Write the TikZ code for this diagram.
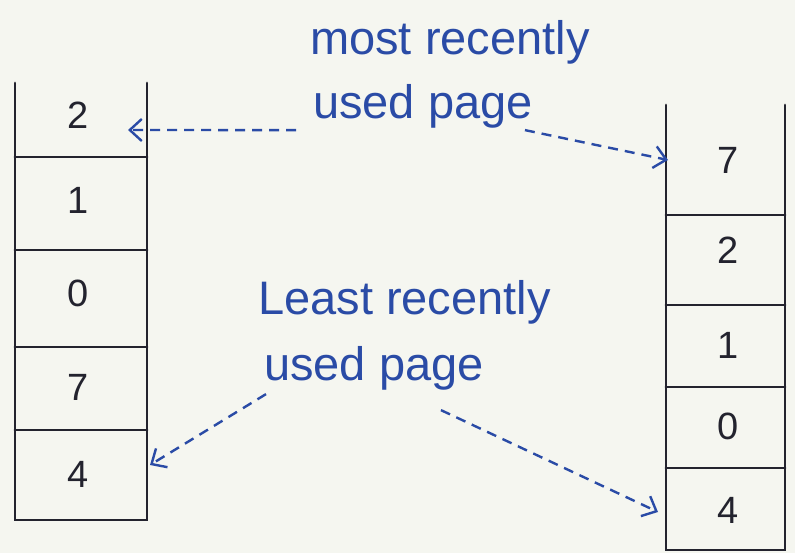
\documentclass[tikz,border=0pt]{standalone}
\usepackage{fontspec}
\setmainfont{Liberation Sans}
\usetikzlibrary{positioning,arrows.meta,calc}
\definecolor{InkBlue}{HTML}{2A4BA6}
\definecolor{InkDark}{HTML}{23232E}
\definecolor{Paper}{HTML}{F5F6F0}

\begin{document}
\begin{tikzpicture}[x=1pt,y=-1pt,
  cellnum/.style={font=\fontsize{38}{40}\selectfont, text=InkDark},
  note/.style={font=\fontsize{47}{50}\selectfont, text=InkBlue, anchor=west, inner sep=2pt},
  stackline/.style={line width=2.8pt, draw=InkDark, line cap=round},
  pointer/.style={line width=2.4pt, draw=InkBlue, dash pattern=on 10pt off 7pt,
    -{Straight Barb[length=12pt,width=22pt,line width=2.4pt]}}]
\fill[Paper] (0,0) rectangle (795,553);
\useasboundingbox (0,0) rectangle (795,553);

% left stack
\draw[stackline] (15,83) -- (15,520) -- (147,520) -- (147,83);
\foreach \y in {157,250,347,430}
  \draw[stackline] (15,\y) -- (147,\y);
\node[cellnum] (l1) at (78,115) {2};
\node[cellnum] (l2) at (78,200) {1};
\node[cellnum] (l3) at (78,293) {0};
\node[cellnum] (l4) at (78,387) {7};
\node[cellnum] (l5) at (78,474) {4};

% right stack
\draw[stackline] (666,105) -- (666,550) -- (785,550) -- (785,105);
\foreach \y in {215,305,387,468}
  \draw[stackline] (666,\y) -- (785,\y);
\node[cellnum] (r1) at (728,160) {7};
\node[cellnum] (r2) at (728,250) {2};
\node[cellnum] (r3) at (728,345) {1};
\node[cellnum] (r4) at (728,426) {0};
\node[cellnum] (r5) at (728,510) {4};

% arrow ends on the stacks
\coordinate (ltop) at (128,130);
\coordinate (lbot) at (150,465);
\coordinate (rtop) at (668,160);
\coordinate (rbot) at (658,512);

% notes
\node[note] (mru1) at (308,42) {most recently};
\node[note] (mru2) at (311,106) {used page};
\node[note] (lru1) at (256,302) {Least recently};
\node[note] (lru2) at (262,368) {used page};

\draw[pointer] ($(mru2.south west)+(-15,0)$) -- (ltop);
\draw[pointer] ($(mru2.south east)+(-10,0)$) -- (rtop);
\draw[pointer] ($(lru2.south west)+(4,2)$) -- (lbot);
\draw[pointer] ($(lru2.south east)+(-45,18)$) -- (rbot);
\end{tikzpicture}
\end{document}
